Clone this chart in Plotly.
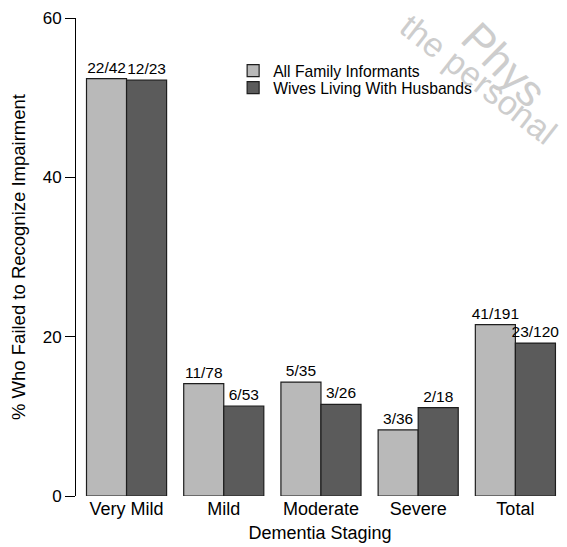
import plotly.graph_objects as go

categories = ["Very Mild", "Mild", "Moderate", "Severe", "Total"]
all_family_pct = [52.4, 14.1, 14.3, 8.3, 21.5]
all_family_lbl = ["22/42", "11/78", "5/35", "3/36", "41/191"]
wives_pct = [52.2, 11.3, 11.5, 11.1, 19.2]
wives_lbl = ["12/23", "6/53", "3/26", "2/18", "23/120"]
series_names = ["All Family Informants", "Wives Living With Husbands"]
y_ticks = [0, 20, 40, 60]

FONT = "Liberation Sans, Arial, Helvetica, sans-serif"
# page body has an 8px default margin; size the figure to fill the window
OFF = 8
W, H = 567 - OFF, 547 - OFF
# plot area in page pixels: left 76, top 18, bottom 496, right 563.6
L = 76 - OFF
T = 18 - OFF
B = H - (496 - OFF)
R = W - (563.6 - OFF)
pw = W - L - R
ph = H - T - B


def px2paper(px, py):
    x = px - OFF
    y = py - OFF
    return (x - L) / pw, (H - B - y) / ph


fig = go.Figure()
fig.add_trace(go.Bar(
    x=categories, y=all_family_pct, name=series_names[0],
    text=all_family_lbl, textposition="outside", constraintext="none",
    textfont=dict(size=15.5, color="black", family=FONT),
    marker=dict(color="#b9b9b9", line=dict(color="#1e1e1e", width=1.2)),
    cliponaxis=False, hoverinfo="skip", legend="legend",
))
fig.add_trace(go.Bar(
    x=categories, y=wives_pct, name=series_names[1],
    text=wives_lbl, textposition="outside", constraintext="none",
    textfont=dict(size=15.5, color="black", family=FONT),
    marker=dict(color="#5b5b5b", line=dict(color="#1e1e1e", width=1.2)),
    cliponaxis=False, hoverinfo="skip", legend="legend2",
))

wm = "#cdcdcd"
x1, y1 = px2paper(478, 79)
x2, y2 = px2paper(504, 65)
annotations = [
    dict(text="the personal", x=x1, y=y1, xref="paper", yref="paper",
         showarrow=False, textangle=38, xanchor="center", yanchor="middle",
         font=dict(size=34, color=wm, family=FONT)),
    dict(text="Phys", x=x2, y=y2, xref="paper", yref="paper",
         showarrow=False, textangle=45, xanchor="center", yanchor="middle",
         font=dict(size=44, color=wm, family=FONT)),
]

lx, ly1 = px2paper(233, 71)
_, ly2 = px2paper(233, 88)
leg_common = dict(xanchor="left", yanchor="middle", bgcolor="rgba(0,0,0,0)",
                  font=dict(size=15.7, family=FONT, color="black"), itemwidth=30)

fig.update_layout(
    width=W, height=H,
    margin=dict(l=L, r=R, t=T, b=B, autoexpand=False),
    paper_bgcolor="white", plot_bgcolor="white",
    barmode="group", bargap=0.176, bargroupgap=0,
    font=dict(family=FONT, color="black"),
    showlegend=True,
    legend=dict(x=lx, y=ly1, **leg_common),
    legend2=dict(x=lx, y=ly2, **leg_common),
    annotations=annotations,
    xaxis=dict(
        range=[-0.52, 4.5], showline=False, ticks="", showgrid=False, zeroline=False,
        automargin=False,
        tickfont=dict(size=18, family=FONT),
        title=dict(text="Dementia Staging", font=dict(size=18, family=FONT), standoff=8),
    ),
    yaxis=dict(
        range=[0, 60], tickvals=y_ticks, showline=True, linecolor="black", linewidth=1,
        ticks="outside", ticklen=10, tickcolor="black", tickwidth=1,
        showgrid=False, zeroline=False, automargin=False,
        tickfont=dict(size=17, family=FONT),
        title=dict(text="% Who Failed to Recognize Impairment", font=dict(size=18.5, family=FONT)),
    ),
)

fig.write_html("out.html")
